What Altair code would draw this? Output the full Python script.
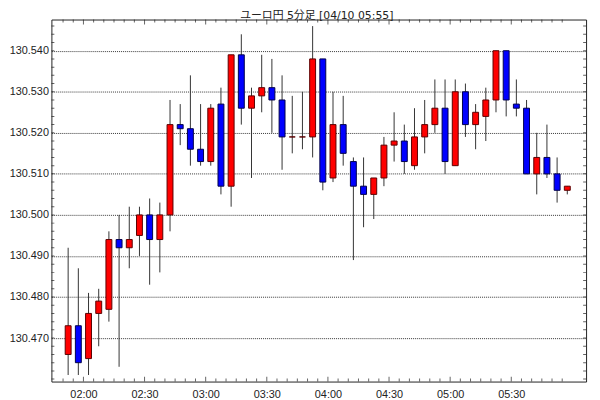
import altair as alt
import pandas as pd

# ---- data ----
times = ["01:50", "01:55", "02:00", "02:05", "02:10", "02:15", "02:20", "02:25", "02:30", "02:35",
         "02:40", "02:45", "02:50", "02:55", "03:00", "03:05", "03:10", "03:15", "03:20", "03:25",
         "03:30", "03:35", "03:40", "03:45", "03:50", "03:55", "04:00", "04:05", "04:10", "04:15",
         "04:20", "04:25", "04:30", "04:35", "04:40", "04:45", "04:50", "04:55", "05:00", "05:05",
         "05:10", "05:15", "05:20", "05:25", "05:30", "05:35", "05:40", "05:45", "05:50", "05:55"]
opens = [130.466, 130.473, 130.465, 130.476, 130.477, 130.494, 130.492, 130.495, 130.500, 130.494,
         130.500, 130.522, 130.521, 130.516, 130.513, 130.527, 130.507, 130.539, 130.526, 130.529,
         130.531, 130.528, 130.519, 130.519, 130.519, 130.538, 130.509, 130.522, 130.513, 130.507,
         130.505, 130.509, 130.517, 130.518, 130.512, 130.519, 130.522, 130.526, 130.512, 130.530,
         130.522, 130.524, 130.528, 130.540, 130.527, 130.526, 130.510, 130.514, 130.510, 130.506]
highs = [130.492, 130.487, 130.481, 130.482, 130.496, 130.500, 130.502, 130.502, 130.504, 130.503,
         130.528, 130.527, 130.534, 130.527, 130.527, 130.531, 130.539, 130.544, 130.531, 130.539,
         130.538, 130.534, 130.529, 130.530, 130.546, 130.538, 130.530, 130.529, 130.514, 130.514,
         130.509, 130.519, 130.525, 130.522, 130.526, 130.528, 130.533, 130.533, 130.533, 130.532,
         130.527, 130.531, 130.540, 130.540, 130.533, 130.528, 130.520, 130.522, 130.514, 130.507]
lows = [130.461, 130.461, 130.461, 130.468, 130.474, 130.463, 130.487, 130.490, 130.483, 130.486,
        130.496, 130.517, 130.512, 130.512, 130.512, 130.505, 130.502, 130.522, 130.509, 130.525,
        130.520, 130.511, 130.515, 130.516, 130.514, 130.506, 130.508, 130.512, 130.489, 130.497,
        130.499, 130.507, 130.513, 130.510, 130.511, 130.515, 130.520, 130.510, 130.512, 130.519,
        130.516, 130.518, 130.525, 130.524, 130.524, 130.510, 130.505, 130.509, 130.503, 130.505]
closes = [130.473, 130.464, 130.476, 130.479, 130.494, 130.492, 130.494, 130.500, 130.494, 130.500,
          130.522, 130.521, 130.516, 130.513, 130.526, 130.507, 130.539, 130.526, 130.529, 130.531,
          130.528, 130.519, 130.519, 130.519, 130.538, 130.508, 130.522, 130.515, 130.507, 130.505,
          130.509, 130.517, 130.518, 130.513, 130.519, 130.522, 130.526, 130.513, 130.530, 130.522,
          130.525, 130.528, 130.540, 130.528, 130.526, 130.510, 130.514, 130.510, 130.506, 130.507]

label_times = ["02:00", "02:30", "03:00", "03:30", "04:00", "04:30", "05:00", "05:30"]
price_labels = [130.470, 130.480, 130.490, 130.500, 130.510, 130.520, 130.530, 130.540]
title_text = "ユーロ円 5分足 [04/10 05:55]"


def to_min(t):
    h, m = t.split(":")
    return int(h) * 60 + int(m)


W, H = 542, 367
X_DOMAIN = [106.7, 364.3]
Y_DOMAIN = [130.4594, 130.5476]

df = pd.DataFrame({"time": times, "open": opens, "high": highs, "low": lows, "close": closes})
df["start"] = df["time"].map(to_min)
df["mid"] = df["start"] + 2.5
df["dir"] = ["up" if c >= o else "down" for o, c in zip(opens, closes)]

# minor / major frame ticks (every 5 minutes, every 0.002)
xt = pd.DataFrame({"m": [to_min(t) for t in times]})
xt["len2"] = [10 if m % 30 == 0 else 6 for m in xt["m"]]
yt = pd.DataFrame({"v": [round(130.460 + 0.002 * i, 3) for i in range(44)]})

label_expr = ("(floor(datum.value/60) < 10 ? '0' : '') + floor(datum.value/60) + ':' + "
              "(datum.value % 60 < 10 ? '0' : '') + (datum.value % 60)")

xscale = alt.Scale(domain=X_DOMAIN, nice=False, zero=False)
yscale = alt.Scale(domain=Y_DOMAIN, nice=False, zero=False)

xaxis = alt.Axis(values=[to_min(t) for t in label_times], labelExpr=label_expr, title=None,
                 grid=False, ticks=False, domain=False, labelFont="Liberation Sans",
                 labelFontSize=11, labelColor="#222222", labelPadding=7)
yaxis = alt.Axis(values=price_labels, format=".3f", title=None, grid=True, gridDash=[1, 1],
                 gridColor="#222222", gridOpacity=0.9, ticks=False, domain=False,
                 labelFont="Liberation Sans", labelFontSize=11, labelColor="#222222",
                 labelPadding=3)

base = alt.Chart(df)

wicks = base.mark_rule(color="#333333", strokeWidth=1).encode(
    x=alt.X("mid:Q", scale=xscale, axis=xaxis),
    y=alt.Y("low:Q", scale=yscale, axis=yaxis),
    y2="high:Q",
)

bodies = base.mark_bar(size=6, strokeWidth=1).encode(
    x=alt.X("mid:Q", scale=xscale, axis=xaxis),
    y=alt.Y("open:Q", scale=yscale, axis=yaxis),
    y2="close:Q",
    fill=alt.Fill("dir:N", scale=alt.Scale(domain=["up", "down"], range=["#ff0000", "#0000ff"]),
                  legend=None),
    stroke=alt.Stroke("dir:N", scale=alt.Scale(domain=["up", "down"], range=["#5a0000", "#00004a"]),
                      legend=None),
)

xticks_bottom = alt.Chart(xt).mark_tick(orient="vertical", clip=True, thickness=1,
                                        color="#222222").encode(
    x=alt.X("m:Q", scale=xscale, axis=xaxis),
    y=alt.value(H),
    size=alt.Size("len2:Q", scale=None, legend=None),
)
xticks_top = alt.Chart(xt).mark_tick(orient="vertical", clip=True, thickness=1,
                                     color="#222222").encode(
    x=alt.X("m:Q", scale=xscale, axis=xaxis),
    y=alt.value(0),
    size=alt.Size("len2:Q", scale=None, legend=None),
)
yticks_left = alt.Chart(yt).mark_tick(orient="horizontal", clip=True, thickness=1,
                                      color="#222222", size=6).encode(
    y=alt.Y("v:Q", scale=yscale, axis=yaxis),
    x=alt.value(0),
)
yticks_right = alt.Chart(yt).mark_tick(orient="horizontal", clip=True, thickness=1,
                                       color="#222222", size=6).encode(
    y=alt.Y("v:Q", scale=yscale, axis=yaxis),
    x=alt.value(W),
)

title_mark = alt.Chart(pd.DataFrame({"t": [title_text]})).mark_text(
    font="DejaVu Sans, Noto Sans CJK JP", fontSize=11, color="#222222", align="center",
    baseline="alphabetic",
).encode(
    text="t:N",
    x=alt.value(W / 2 - 2),
    y=alt.value(-1),
)

chart = alt.layer(wicks, bodies, xticks_bottom, xticks_top, yticks_left, yticks_right,
                  title_mark).properties(
    width=W,
    height=H,
    autosize=alt.AutoSizeParams(type="none"),
    padding={"left": 44, "top": 9, "right": 6, "bottom": 16},
    background="white",
).configure_view(stroke="#222222", strokeWidth=1)

chart.save("out.html", embed_options={"renderer": "svg", "actions": False})
